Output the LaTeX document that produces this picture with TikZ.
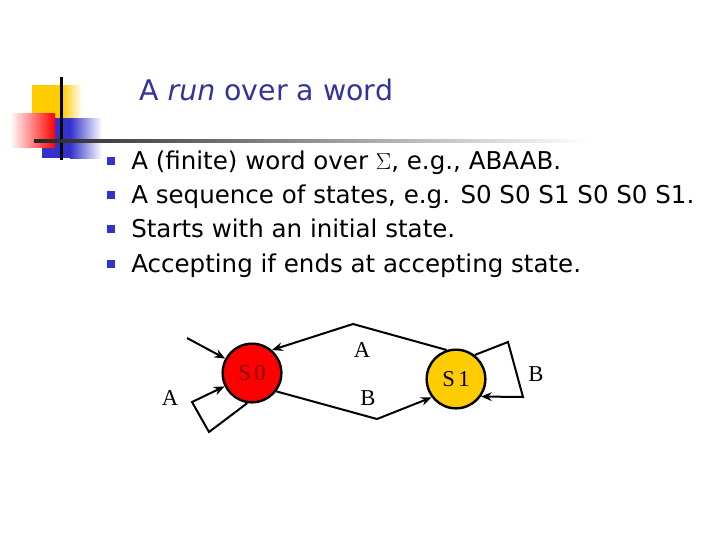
\documentclass[tikz,border=0pt]{standalone}
\usepackage{fontspec}
\usetikzlibrary{arrows.meta}
\setmainfont{DejaVu Sans}
\newfontfamily\labelfont{Liberation Serif}
\newfontfamily\statefont[LetterSpace=15]{Liberation Serif}
\definecolor{SlideBlue}{HTML}{333399}
\definecolor{BulletBlue}{HTML}{3333CC}
\definecolor{DecoYellow}{HTML}{FFCC00}
\definecolor{DecoRed}{HTML}{FF0000}
\definecolor{StateRed}{HTML}{FF0000}
\definecolor{StateGold}{HTML}{FFCC00}
\definecolor{LabelRed}{HTML}{800000}

\begin{document}
\begin{tikzpicture}[x=0.75pt,y=-0.75pt,
  state/.style={circle,draw=black,line width=1.8pt,minimum size=44pt,inner sep=0pt,font=\statefont\fontsize{17}{17}\selectfont},
  edge/.style={line width=1.5pt,-{Stealth[length=8pt,width=6.5pt]}},
  lbl/.style={inner sep=0pt,font=\labelfont\fontsize{17}{17}\selectfont},
  bullet/.style={fill=BulletBlue,minimum size=6.5pt,inner sep=0pt},
  item/.style={anchor=base west,inner sep=0pt,font=\fontsize{18.4}{18.4}\selectfont}]
  \useasboundingbox (0,0) rectangle (720,540);
  % corner decoration
  \fill[DecoYellow] (32,85) rectangle (62,118); \shade[left color=DecoYellow,right color=white] (62,85) rectangle (82,118);
  \fill[BulletBlue] (42,118) rectangle (70,158); \shade[left color=BulletBlue,right color=white] (70,118) rectangle (102,158);
  \shade[left color=white,right color=DecoRed] (10,113) rectangle (55,147);
  \fill[black] (59.5,77) rectangle (62.5,160);
  \shade[left color=black!85,right color=white] (34,139.5) rectangle (590,142.5);
  % title and bullets
  \node[anchor=base west,inner sep=0pt,text=SlideBlue,font=\fontsize{21.3}{21.3}\selectfont] (title) at (139,100) {A \textit{run} over a word};
  \foreach \y/\txt [count=\i] in {169/{A (finite) word over $\Sigma$, e.g., ABAAB.},
                                   203/{A sequence of states, e.g. S0 S0 S1 S0 S0 S1.},
                                   237/{Starts with an initial state.},
                                   272/{Accepting if ends at accepting state.}} {
    \node[bullet] (b\i) at (111,\y-8) {};
    \node[item] (t\i) at (131,\y) {\txt};
  }
  % automaton
  \node[state,fill=StateRed,text=LabelRed] (s0) at (252,373) {S0};
  \node[state,fill=StateGold] (s1) at (456,379) {S1};
  \coordinate (init) at (187,338);
  \draw[edge] (init) -- (s0);
  \draw[edge] (s0.261) -- (209,432) -- (192,402) -- (s0.206);
  \draw[edge] (s1.108) -- (353,324) -- (s0.49);
  \draw[edge] (s0.323) -- (377,419) -- (s1.217);
  \draw[edge] (s1.52) -- (508,342) -- (523,397) -- (s1.325);
  \node[lbl] (la) at (170,398) {A};
  \node[lbl] (lab) at (362,350) {A};
  \node[lbl] (lbb) at (368,398) {B};
  \node[lbl] (lb) at (536,374) {B};
\end{tikzpicture}
\end{document}
